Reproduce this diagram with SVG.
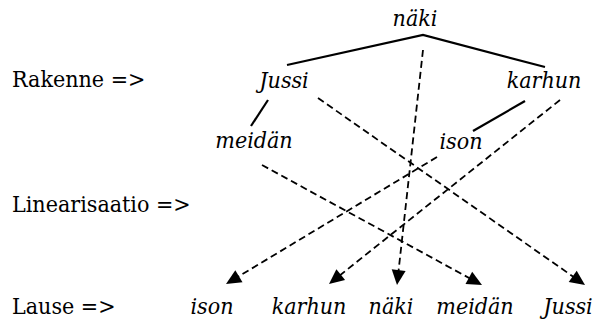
<svg xmlns="http://www.w3.org/2000/svg" width="598" height="321" viewBox="0 0 598 321">
<style>
text{fill:#000}
.l{font-family:"DejaVu Serif Condensed";font-size:23px}
.w{font-family:"DejaVu Serif Condensed";font-size:23px;font-style:italic;text-anchor:middle}
.s{stroke:#000;stroke-width:2.2;fill:none}
.d{stroke:#000;stroke-width:1.8;fill:none;stroke-dasharray:7 4}
.h{fill:#000;stroke:none}
</style>
<g id="labels">
<text class="l" x="12" y="87">Rakenne =&gt;</text>
<text class="l" x="12" y="212">Linearisaatio =&gt;</text>
<text class="l" x="12" y="314">Lause =&gt;</text>
</g>
<g id="n-naki"><text class="w" x="415" y="26">näki</text></g>
<g id="n-jussi"><text class="w" x="284" y="88">Jussi</text></g>
<g id="n-karhun"><text class="w" x="544" y="88">karhun</text></g>
<g id="n-meidan"><text class="w" x="254" y="148">meidän</text></g>
<g id="n-ison"><text class="w" x="461" y="149">ison</text></g>
<g id="s-ison"><text class="w" x="212" y="314">ison</text></g>
<g id="s-karhun"><text class="w" x="309" y="314">karhun</text></g>
<g id="s-naki"><text class="w" x="391" y="314">näki</text></g>
<g id="s-meidan"><text class="w" x="475" y="314">meidän</text></g>
<g id="s-jussi"><text class="w" x="568" y="314">Jussi</text></g>
<g id="connectors">
<polyline class="s" points="287,65 423,35 545,67"/>
<line class="s" x1="268" y1="100" x2="251" y2="126"/>
<line class="s" x1="525" y1="101" x2="473" y2="131"/>
<line class="d" x1="423" y1="50" x2="398.3" y2="273.1"/>
<polygon class="h" points="397,285 405.6,270.9 391.7,269.3"/>
<line class="d" x1="318" y1="98" x2="575.2" y2="278.1"/>
<polygon class="h" points="585,285 568.7,282.1 576.7,270.7"/>
<line class="d" x1="262" y1="165" x2="471.5" y2="279.3"/>
<polygon class="h" points="482,285 465.5,284 472.2,271.7"/>
<line class="d" x1="437" y1="157" x2="236.3" y2="277.8"/>
<polygon class="h" points="226,284 235.3,270.3 242.5,282.3"/>
<line class="d" x1="560" y1="100" x2="338.4" y2="276.5"/>
<polygon class="h" points="329,284 336.4,269.2 345.1,280.1"/>
</g>
</svg>
